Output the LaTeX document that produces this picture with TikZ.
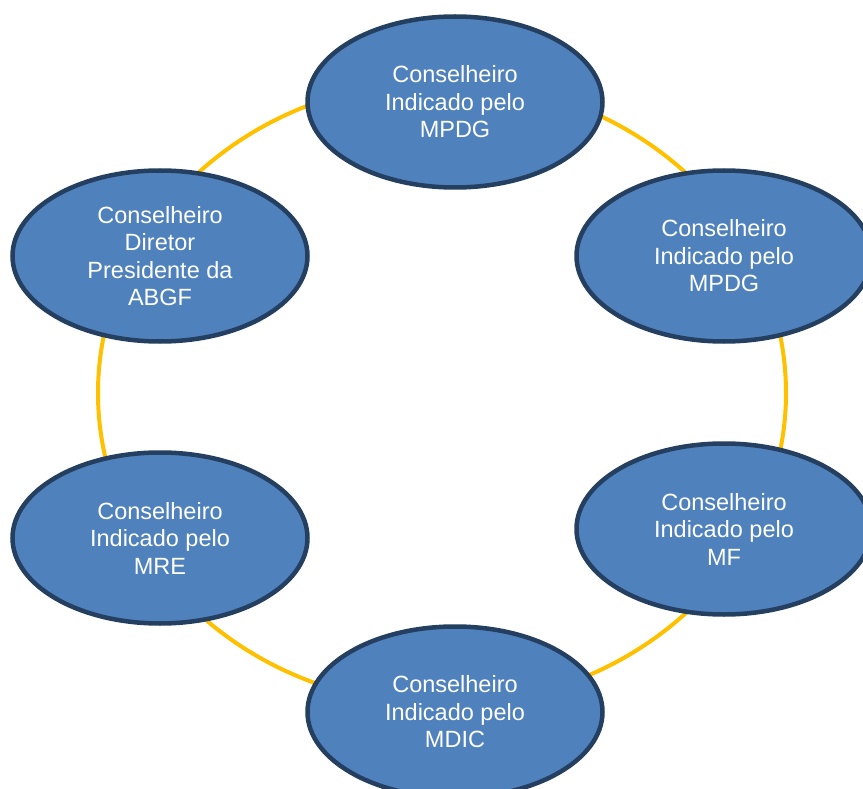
\documentclass[tikz,border=0pt]{standalone}
\usepackage{fontspec}
\setmainfont{Liberation Sans}
\usetikzlibrary{shapes.geometric}
\definecolor{boxfill}{HTML}{4F81BD}
\definecolor{boxline}{HTML}{243F60}
\definecolor{ringcol}{HTML}{FFC000}
\tikzset{
  member/.style={ellipse, draw=boxline, line width=4.5pt, fill=boxfill,
    minimum width=295pt, minimum height=171pt, inner sep=0pt,
    text=white, align=center, font=\fontsize{23.5}{27.5}\selectfont},
  ring/.style={draw=ringcol, line width=4pt}
}
\begin{document}
\begin{tikzpicture}[x=1pt, y=-1pt]
\useasboundingbox (0,0) rectangle (863,789);
\coordinate (c) at (442,393);
\draw[ring] (c) ellipse [x radius=344pt, y radius=312pt];
\node[member] (n1) at (455,102) {Conselheiro\\Indicado pelo\\MPDG};
\node[member] (n2) at (724,256) {Conselheiro\\Indicado pelo\\MPDG};
\node[member] (n3) at (724,529) {Conselheiro\\Indicado pelo\\MF};
\node[member] (n4) at (455,712) {Conselheiro\\Indicado pelo\\MDIC};
\node[member] (n5) at (160,538) {Conselheiro\\Indicado pelo\\MRE};
\node[member] (n6) at (160,256) {Conselheiro\\Diretor\\Presidente da\\ABGF};
\end{tikzpicture}
\end{document}
